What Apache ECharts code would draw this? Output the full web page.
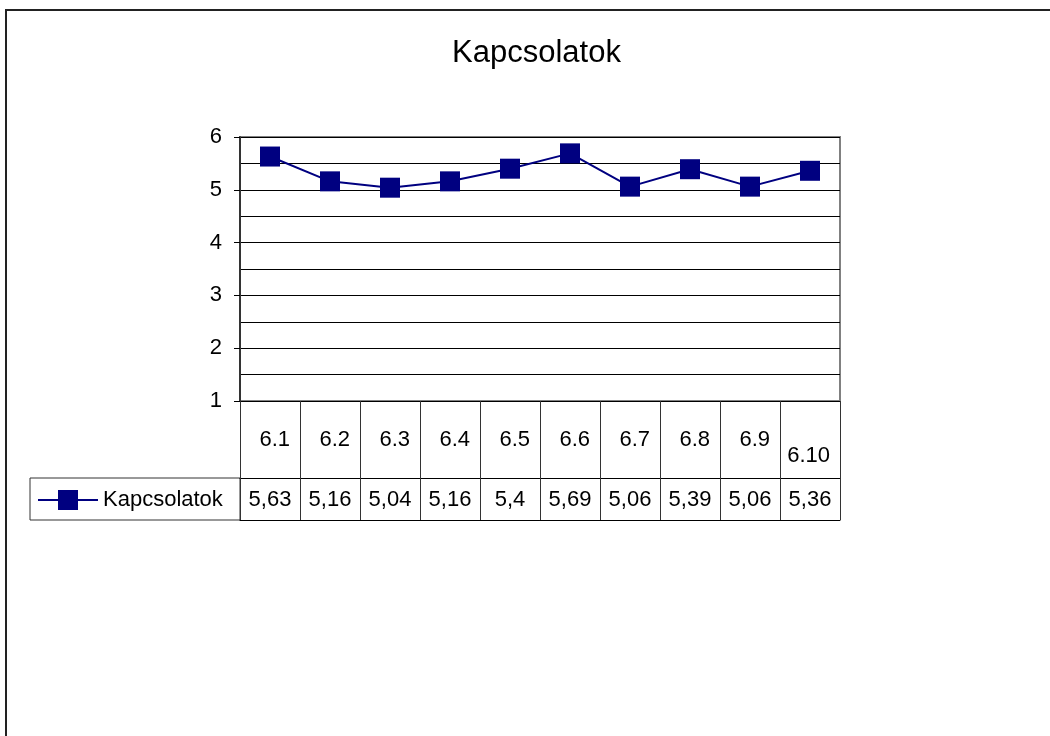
<!DOCTYPE html>
<html>
<head>
<meta charset="utf-8">
<title>Kapcsolatok</title>
<script src="https://cdn.jsdelivr.net/npm/echarts@6/dist/echarts.min.js"></script>
<style>
    html, body { margin: 0; padding: 0; background: #fff; }
    #chartmainLine { width: 1050px; height: 736px; }
</style>
</head>
<body>
<div id="chartmainLine"></div>
<script>
// adatok
var honapok = ['6.1', '6.2', '6.3', '6.4', '6.5', '6.6', '6.7', '6.8', '6.9', '6.10'];
var kapcsolatok = [5.63, 5.16, 5.04, 5.16, 5.4, 5.69, 5.06, 5.39, 5.06, 5.36];
var sorozatNev = 'Kapcsolatok';

var betu = "'Liberation Sans', Arial, sans-serif";

function setChartMainLine() {
    var option = {
        animation: false,
        title: {
            text: 'Kapcsolatok',
            left: 447,
            top: 33,
            textStyle: { fontFamily: betu, fontSize: 31, fontWeight: 'normal', color: '#000' }
        },
        legend: {
            data: [sorozatNev],
            left: 37,
            top: 489,
            padding: 0,
            itemWidth: 60,
            itemHeight: 25,
            textStyle: { fontFamily: betu, fontSize: 22, color: '#000' }
        },
        grid: {
            left: 240,
            top: 137,
            width: 600,
            height: 264,
            show: true,
            borderColor: '#808080',
            borderWidth: 2
        },
        xAxis: [{
            // kategoria sor
            type: 'category',
            data: honapok,
            boundaryGap: true,
            axisLine: { lineStyle: { color: '#000', width: 1 } },
            axisTick: { show: true, length: 119, alignWithLabel: false, interval: 0, lineStyle: { color: '#333' } },
            axisLabel: {
                interval: 0,
                margin: 28,
                verticalAlign: 'top',
                formatter: function (v) {
                    return v.length > 3 ? '{w|' + v + '}' : '{r|' + v + '}';
                },
                rich: {
                    r: { width: 40, align: 'right', fontFamily: betu, fontSize: 22, color: '#000' },
                    w: { width: 40, align: 'right', fontFamily: betu, fontSize: 22, color: '#000', padding: [16, 0, 0, 0] }
                }
            },
            splitLine: { show: false }
        }, {
            // ertek sor
            type: 'category',
            data: honapok,
            position: 'bottom',
            offset: 77,
            axisLine: { lineStyle: { color: '#000', width: 1 } },
            axisTick: { show: true, length: 42, alignWithLabel: false, interval: 0, lineStyle: { color: '#333' } },
            axisLabel: {
                interval: 0,
                margin: 11,
                verticalAlign: 'top',
                fontFamily: betu,
                fontSize: 22,
                color: '#000',
                formatter: function (v, i) {
                    return String(kapcsolatok[i]).replace('.', ',');
                }
            },
            splitLine: { show: false }
        }, {
            // also vonal
            type: 'category',
            data: honapok,
            position: 'bottom',
            offset: 119,
            axisLine: { lineStyle: { color: '#000', width: 1 } },
            axisTick: { show: false },
            axisLabel: { show: false },
            splitLine: { show: false }
        }],
        yAxis: {
            type: 'value',
            min: 1,
            max: 6,
            interval: 1,
            axisLine: { show: true, lineStyle: { color: '#333', width: 2 } },
            axisTick: { show: true, length: 6, lineStyle: { color: '#000' } },
            axisLabel: { margin: 18, fontFamily: betu, fontSize: 22, color: '#000' },
            splitLine: { show: true, lineStyle: { color: '#000', width: 1 } },
            minorTick: { show: false, splitNumber: 2 },
            minorSplitLine: { show: true, lineStyle: { color: '#000', width: 1 } }
        },
        graphic: [{
            type: 'rect',
            shape: { x: 6, y: 10, width: 1100, height: 800 },
            style: { fill: 'none', stroke: '#222', lineWidth: 2 },
            silent: true
        }, {
            type: 'rect',
            shape: { x: 30, y: 478, width: 210, height: 42 },
            style: { fill: 'none', stroke: '#333', lineWidth: 1 },
            silent: true
        }],
        series: [{
            name: sorozatNev,
            type: 'line',
            xAxisIndex: 0,
            data: kapcsolatok,
            symbol: 'rect',
            symbolSize: 20,
            itemStyle: { color: '#000080' },
            lineStyle: { color: '#000080', width: 2 }
        }]
    };
    var myChart = echarts.init(document.getElementById('chartmainLine'));
    myChart.setOption(option);
}
setChartMainLine();
</script>
</body>
</html>
